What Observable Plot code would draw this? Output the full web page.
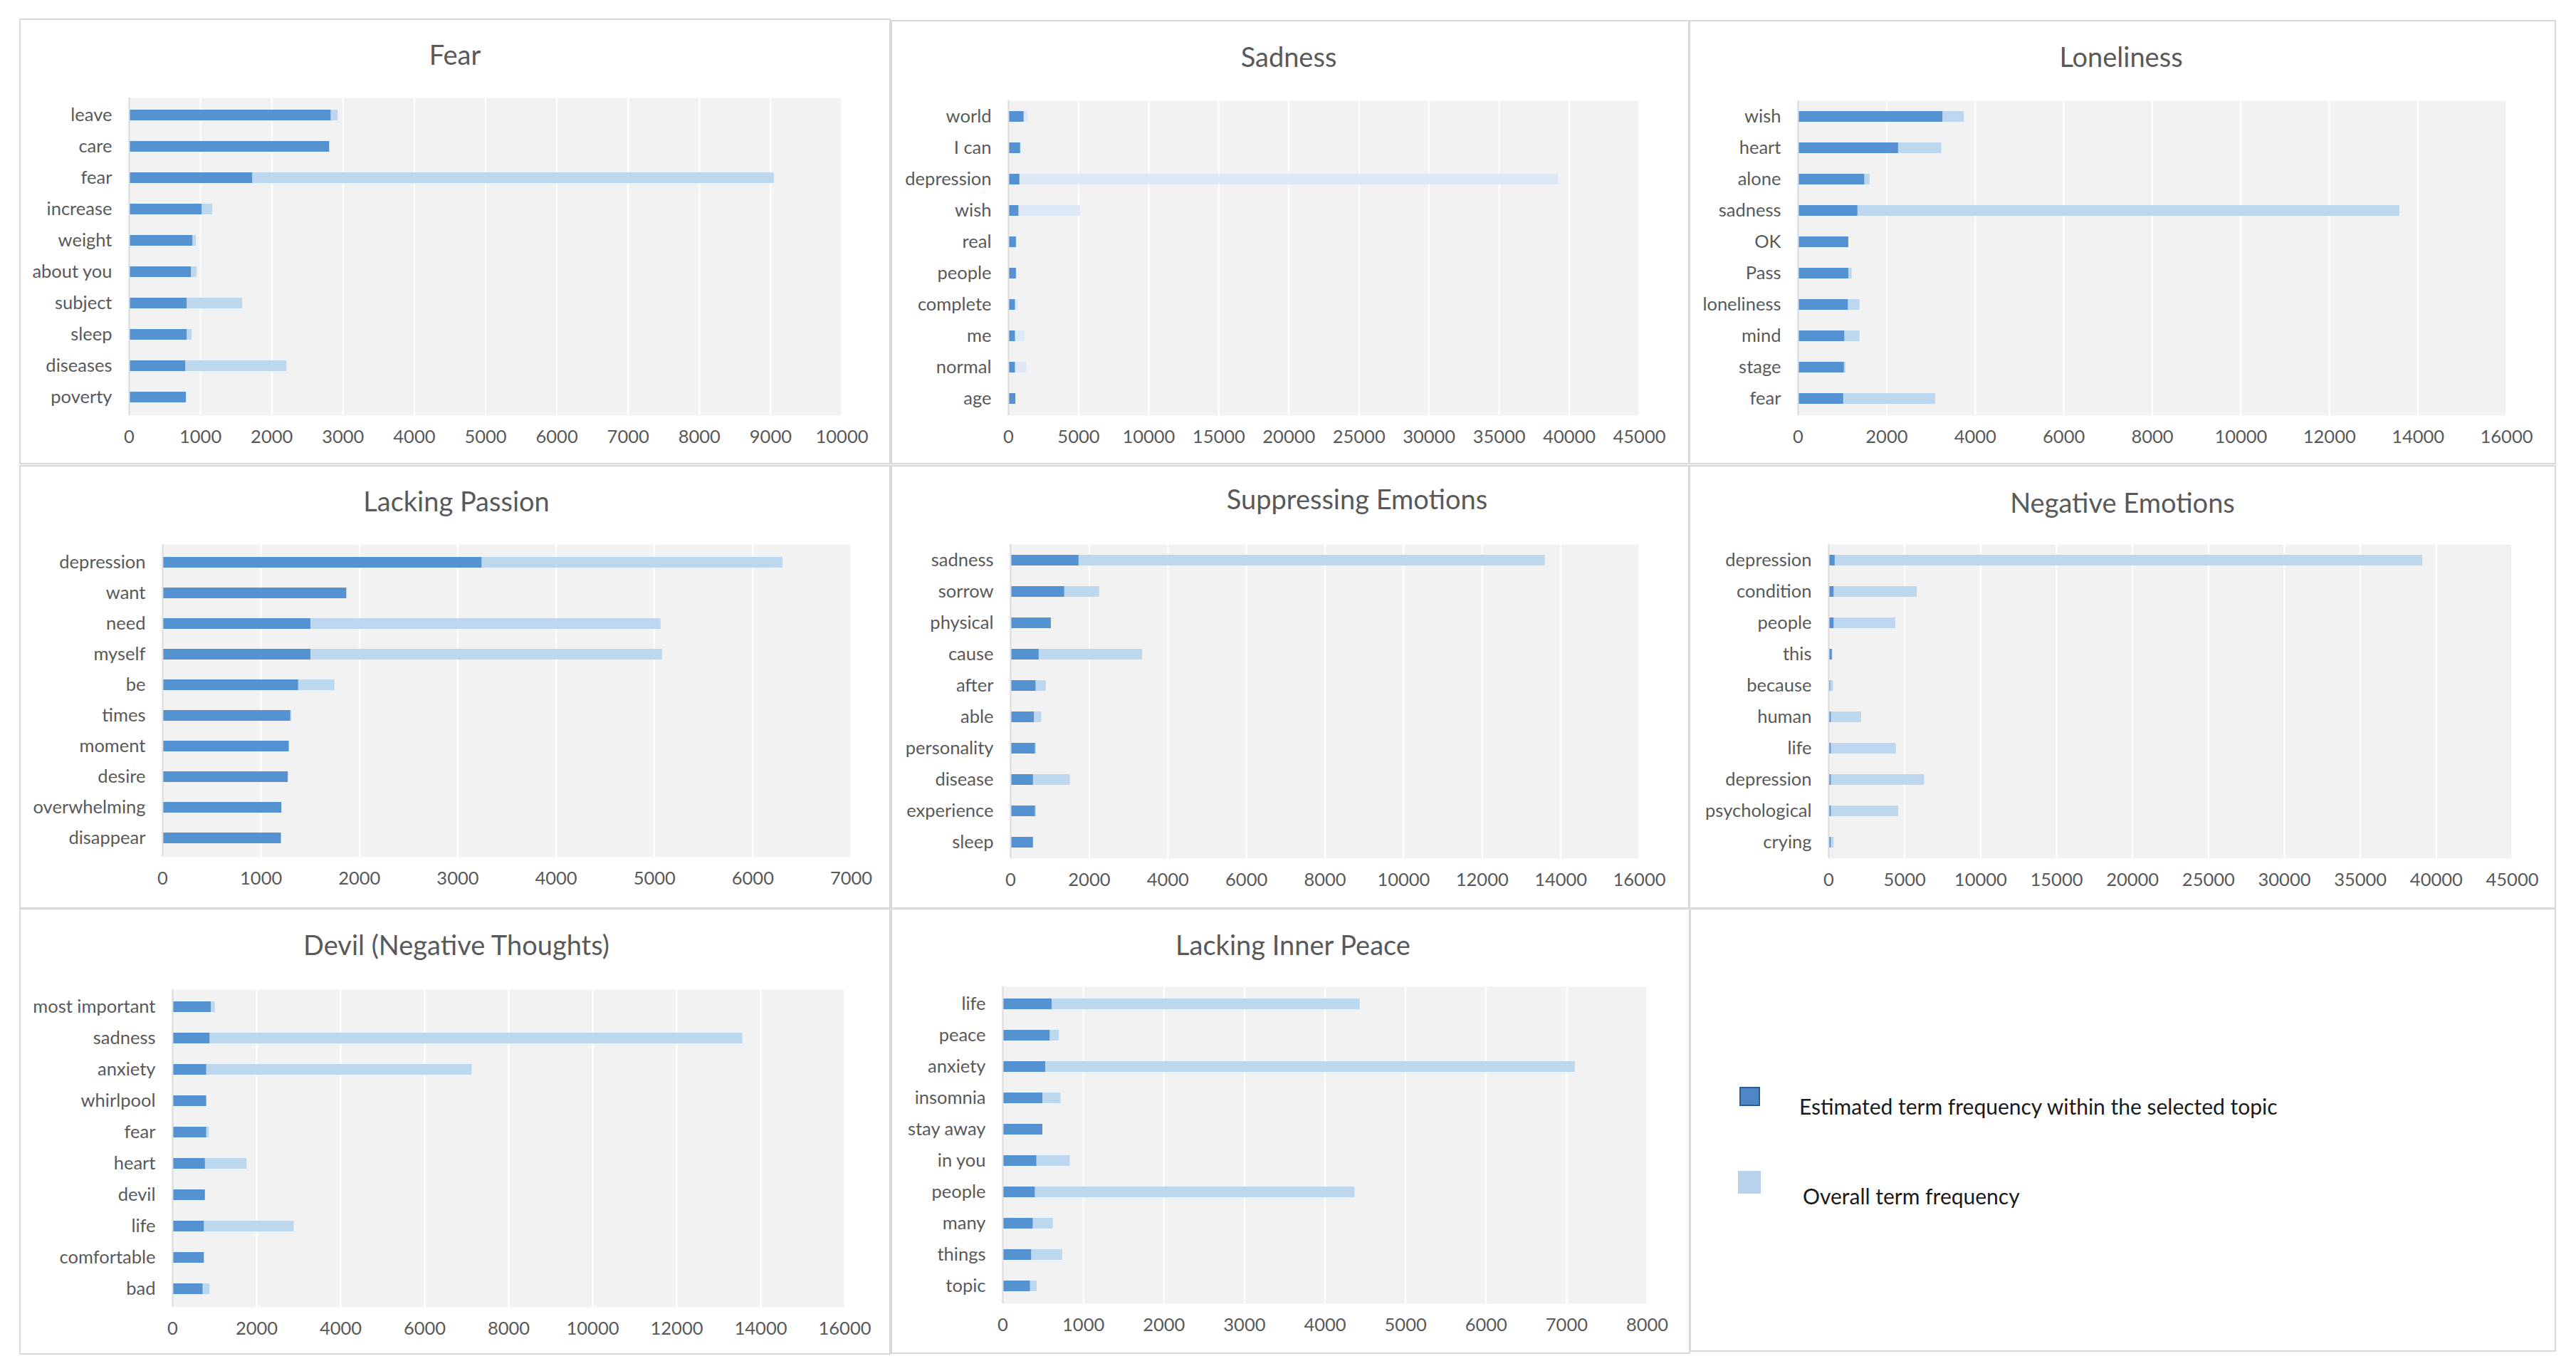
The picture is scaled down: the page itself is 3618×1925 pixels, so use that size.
<!DOCTYPE html>
<html>
<head>
<meta charset="utf-8">
<script src="https://cdn.jsdelivr.net/npm/d3@7"></script>
<script src="https://cdn.jsdelivr.net/npm/@observablehq/plot@0.6"></script>
<style>
  body { margin: 0; background: #ffffff; }
  #root { position: relative; width: 3618px; height: 1925px; font-family: Lato, "Open Sans", sans-serif; overflow: hidden; }
  .panel { position: absolute; box-sizing: border-box; border: 2px solid #d9d9d9; }
  .title { position: absolute; transform: translate(-50%, -50%); font-size: 38px; color: #595959; white-space: nowrap; }
  .chart { position: absolute; }
  .chart svg { overflow: visible; }
  .legtext { position: absolute; transform: translateY(-50%); font-size: 30px; color: #1a1a1a; white-space: nowrap; }
  .legbox { position: absolute; box-sizing: border-box; }
</style>
</head>
<body>
<div id="root"></div>
<script>
// ---------- DATA ----------
const fearTerms = ["leave", "care", "fear", "increase", "weight", "about you", "subject", "sleep", "diseases", "poverty"];
const fearEstimated = [2830, 2810, 1730, 1020, 890, 870, 810, 810, 790, 800];
const fearOverall = [2930, 2810, 9050, 1170, 940, 950, 1590, 880, 2210, 800];

const sadnessTerms = ["world", "I can", "depression", "wish", "real", "people", "complete", "me", "normal", "age"];
const sadnessEstimated = [1100, 850, 800, 730, 550, 550, 480, 480, 480, 510];
const sadnessOverall = [1390, 900, 39230, 5120, 600, 580, 700, 1170, 1280, 520];

const lonelinessTerms = ["wish", "heart", "alone", "sadness", "OK", "Pass", "loneliness", "mind", "stage", "fear"];
const lonelinessEstimated = [3265, 2265, 1500, 1345, 1140, 1140, 1130, 1050, 1040, 1025];
const lonelinessOverall = [3750, 3240, 1625, 13585, 1140, 1215, 1395, 1395, 1075, 3100];

const passionTerms = ["depression", "want", "need", "myself", "be", "times", "moment", "desire", "overwhelming", "disappear"];
const passionEstimated = [3245, 1870, 1505, 1505, 1380, 1300, 1285, 1275, 1210, 1205];
const passionOverall = [6305, 1870, 5065, 5080, 1750, 1310, 1285, 1275, 1210, 1205];

const suppressTerms = ["sadness", "sorrow", "physical", "cause", "after", "able", "personality", "disease", "experience", "sleep"];
const suppressEstimated = [1735, 1370, 1030, 720, 640, 600, 625, 575, 625, 575];
const suppressOverall = [13600, 2260, 1030, 3355, 900, 785, 650, 1515, 650, 575];

const negativeTerms = ["depression", "condition", "people", "this", "because", "human", "life", "depression", "psychological", "crying"];
const negativeEstimated = [410, 340, 340, 220, 110, 150, 150, 150, 150, 150];
const negativeOverall = [39100, 5820, 4400, 260, 300, 2160, 4440, 6300, 4590, 340];

const devilTerms = ["most important", "sadness", "anxiety", "whirlpool", "fear", "heart", "devil", "life", "comfortable", "bad"];
const devilEstimated = [915, 885, 805, 805, 805, 775, 775, 750, 750, 720];
const devilOverall = [1010, 13570, 7125, 805, 870, 1770, 775, 2890, 750, 885];

const peaceTerms = ["life", "peace", "anxiety", "insomnia", "stay away", "in you", "people", "many", "things", "topic"];
const peaceEstimated = [610, 585, 530, 495, 495, 420, 400, 375, 355, 340];
const peaceOverall = [4435, 700, 7105, 720, 495, 835, 4370, 625, 740, 425];

const panelTitles = ["Fear", "Sadness", "Loneliness", "Lacking Passion", "Suppressing Emotions", "Negative Emotions", "Devil (Negative Thoughts)", "Lacking Inner Peace"];
const axisMax = [10000, 45000, 16000, 7000, 16000, 45000, 16000, 8000];
const axisStep = [1000, 5000, 2000, 1000, 2000, 5000, 2000, 1000];

const legendLabels = ["Estimated term frequency within the selected topic", "Overall term frequency"];

// ---------- LAYOUT / STYLE ----------
const panelData = [
  [fearTerms, fearEstimated, fearOverall],
  [sadnessTerms, sadnessEstimated, sadnessOverall],
  [lonelinessTerms, lonelinessEstimated, lonelinessOverall],
  [passionTerms, passionEstimated, passionOverall],
  [suppressTerms, suppressEstimated, suppressOverall],
  [negativeTerms, negativeEstimated, negativeOverall],
  [devilTerms, devilEstimated, devilOverall],
  [peaceTerms, peaceEstimated, peaceOverall]
];
// panel box [x0,y0,x1,y1], plot area [x0,y0,x1,y1], title center [x,y]
const layout = [
  {box: [27, 26, 1251, 652], plot: [181, 137, 1182, 583], title: [639, 76]},
  {box: [1251, 28, 2373, 652], plot: [1416, 141, 2302, 583], title: [1810, 79]},
  {box: [2372, 28, 3590, 652], plot: [2525, 141, 3520, 583], title: [2979, 79]},
  {box: [27, 653, 1251, 1276], plot: [228, 764, 1195, 1203], title: [641, 703]},
  {box: [1251, 653, 2373, 1276], plot: [1419, 764, 2302, 1205], title: [1906, 700]},
  {box: [2372, 653, 3590, 1276], plot: [2568, 764, 3528, 1205], title: [2981, 705]},
  {box: [27, 1275, 1251, 1902], plot: [242, 1389, 1186, 1835], title: [641, 1326]},
  {box: [1251, 1275, 2374, 1901], plot: [1408, 1385, 2313, 1830], title: [1816, 1326]}
];
const darkColor = "#5592d2";
const lightColor = "#bdd7ee";
const paleColor = "#dde9f7";

const root = document.getElementById("root");

panelData.forEach(([terms, est, all], k) => {
  const L = layout[k];
  const [bx0, by0, bx1, by1] = L.box;
  const [px0, py0, px1, py1] = L.plot;

  const panel = document.createElement("div");
  panel.className = "panel";
  Object.assign(panel.style, {left: bx0 + "px", top: by0 + "px", width: (bx1 - bx0) + "px", height: (by1 - by0) + "px"});
  root.appendChild(panel);

  const title = document.createElement("div");
  title.className = "title";
  title.textContent = panelTitles[k];
  Object.assign(title.style, {left: L.title[0] + "px", top: L.title[1] + "px"});
  root.appendChild(title);

  const rows = terms.map((t, i) => ({key: i, term: t, estimated: est[i], overall: all[i]}));
  const ticks = d3.range(0, axisMax[k] + 1, axisStep[k]);

  const left = bx0 + 4, right = bx1 - 4, top = py0 - 30, bottom = py1 + 62;
  const chart = Plot.plot({
    width: right - left,
    height: bottom - top,
    marginLeft: px0 - left,
    marginRight: right - px1,
    marginTop: py0 - top,
    marginBottom: bottom - py1,
    style: {fontFamily: "Lato, 'Open Sans', sans-serif", fontSize: "25.5px", color: "#595959", background: "transparent", overflow: "visible"},
    x: {domain: [0, axisMax[k]], ticks: ticks, tickFormat: d => String(d), tickSize: 0, tickPadding: 20, label: null},
    y: {domain: d3.range(terms.length), paddingInner: 0.65, paddingOuter: 0.325, tickSize: 0, tickPadding: 24, tickFormat: i => terms[i], label: null},
    marks: [
      Plot.frame({fill: "#f2f2f2", stroke: null}),
      Plot.gridX(ticks, {stroke: "#ffffff", strokeOpacity: 1, strokeWidth: 2}),
      Plot.barX(rows, {x: "overall", y: "key", fill: k === 1 ? paleColor : lightColor}),
      Plot.barX(rows, {x: "estimated", y: "key", fill: darkColor}),
      Plot.ruleX([0], {stroke: "#d9d9d9", strokeWidth: 2})
    ]
  });
  const wrap = document.createElement("div");
  wrap.className = "chart";
  Object.assign(wrap.style, {left: left + "px", top: top + "px"});
  wrap.appendChild(chart);
  root.appendChild(wrap);
});

// ---------- LEGEND PANEL ----------
const legPanel = document.createElement("div");
legPanel.className = "panel";
Object.assign(legPanel.style, {left: "2373px", top: "1275px", width: "1217px", height: "623px"});
root.appendChild(legPanel);

const legendItems = [
  {box: [2443, 1526, 29, 27], fill: "#4f86c6", border: "2px solid #2f5a8f", text: [2527, 1553]},
  {box: [2441, 1644, 32, 32], fill: "#b8d1ec", border: "none", text: [2532, 1679]}
];
legendItems.forEach((it, i) => {
  const b = document.createElement("div");
  b.className = "legbox";
  Object.assign(b.style, {left: it.box[0] + "px", top: it.box[1] + "px", width: it.box[2] + "px", height: it.box[3] + "px", background: it.fill, border: it.border});
  root.appendChild(b);
  const t = document.createElement("div");
  t.className = "legtext";
  t.textContent = legendLabels[i];
  Object.assign(t.style, {left: it.text[0] + "px", top: it.text[1] + "px"});
  root.appendChild(t);
});
</script>
</body>
</html>
